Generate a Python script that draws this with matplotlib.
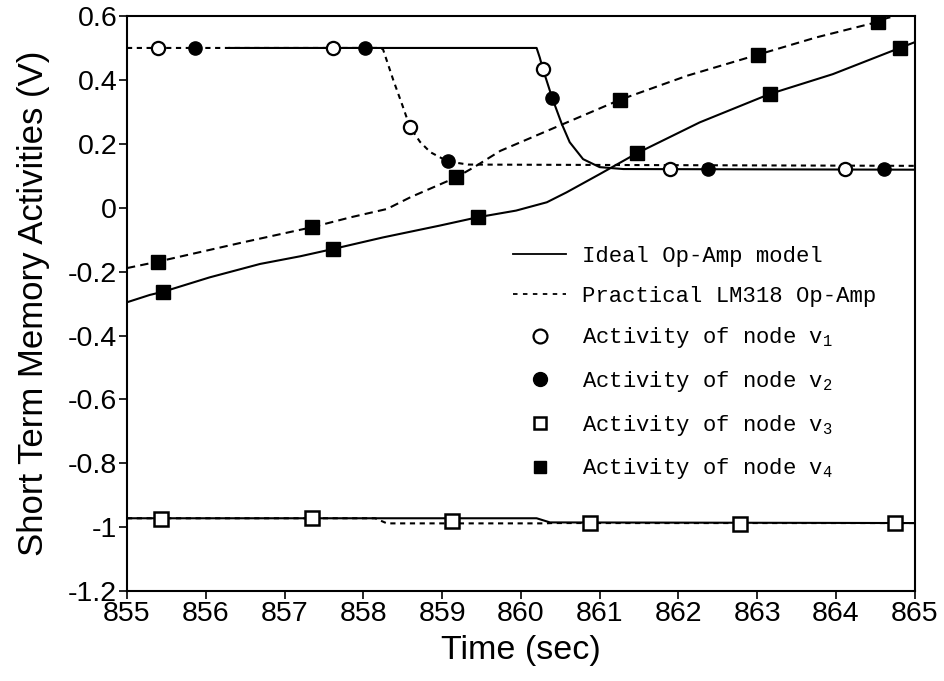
import numpy as np
import matplotlib
matplotlib.use("Agg")
import matplotlib.pyplot as plt
from matplotlib.lines import Line2D
from matplotlib.font_manager import FontProperties

plt.rcParams['font.family'] = ['Liberation Sans', 'DejaVu Sans']
plt.rcParams['axes.unicode_minus'] = False
plt.rcParams['mathtext.fontset'] = 'custom'
plt.rcParams['mathtext.rm'] = 'Liberation Mono'
plt.rcParams['mathtext.it'] = 'Liberation Mono'
plt.rcParams['mathtext.default'] = 'rm'

# v1 / v2 curves (they lie on top of each other)
t_v12_ideal = [856.3, 860.2, 860.24, 860.28, 860.4, 860.52, 860.62, 860.79, 861.0, 861.3, 865.0]
y_v12_ideal = [0.5, 0.5, 0.47, 0.434, 0.342, 0.262, 0.205, 0.152, 0.127, 0.121, 0.119]
t_v12_prac = [855.0, 858.21, 858.25, 858.38, 858.5, 858.59, 858.72, 858.85, 859.07, 859.33, 865.0]
y_v12_prac = [0.5, 0.5, 0.496, 0.40, 0.318, 0.254, 0.206, 0.174, 0.145, 0.135, 0.131]

# v3
t_v3_ideal = [855.0, 860.2, 860.37, 865.0]
y_v3_ideal = [-0.972, -0.972, -0.985, -0.987]
t_v3_prac = [855.0, 858.15, 858.3, 860.3, 860.4, 865.0]
y_v3_prac = [-0.972, -0.972, -0.988, -0.988, -0.987, -0.987]

# v4
t_v4_ideal = [855.0, 855.29, 855.46, 856.05, 856.69, 857.2, 857.62, 858.25, 858.97, 859.45,
              859.94, 860.33, 860.58, 861.0, 861.47, 862.27, 863.16, 863.96, 864.81, 865.0]
y_v4_ideal = [-0.296, -0.273, -0.263, -0.218, -0.176, -0.152, -0.129, -0.093, -0.056, -0.03,
              -0.009, 0.017, 0.048, 0.105, 0.17, 0.267, 0.356, 0.418, 0.50, 0.518]
t_v4_prac = [855.0, 855.39, 856.48, 857.35, 857.84, 858.30, 858.6, 858.89, 859.18, 859.40,
             859.74, 861.26, 862.11, 863.01, 863.75, 864.54, 864.64, 865.0]
y_v4_prac = [-0.189, -0.169, -0.108, -0.061, -0.03, -0.004, 0.033, 0.064, 0.095, 0.126,
             0.178, 0.338, 0.413, 0.479, 0.533, 0.582, 0.593, 0.615]

# marker points
t_v1_mk = [855.39, 857.61, 858.59, 860.28, 861.89, 864.12]
y_v1_mk = [0.5, 0.5, 0.254, 0.434, 0.122, 0.122]
t_v2_mk = [855.86, 858.02, 859.07, 860.40, 862.37, 864.61]
y_v2_mk = [0.5, 0.5, 0.145, 0.342, 0.122, 0.12]
t_v3_mk = [855.43, 857.35, 859.13, 860.88, 862.78, 864.75]
y_v3_mk = [-0.975, -0.972, -0.98, -0.988, -0.99, -0.988]
t_v4i_mk = [855.46, 857.62, 859.45, 861.47, 863.16, 864.81]
y_v4i_mk = [-0.263, -0.129, -0.03, 0.17, 0.356, 0.50]
t_v4p_mk = [855.39, 857.35, 859.18, 861.26, 863.01, 864.54]
y_v4p_mk = [-0.169, -0.061, 0.095, 0.338, 0.479, 0.582]

xticks = list(range(855, 866))
yticks = [-1.2, -1.0, -0.8, -0.6, -0.4, -0.2, 0.0, 0.2, 0.4, 0.6]
ytick_labels = ['-1.2', '-1', '-0.8', '-0.6', '-0.4', '-0.2', '0', '0.2', '0.4', '0.6']

legend_labels = ['Ideal Op-Amp model', 'Practical LM318 Op-Amp',
                 'Activity of node v$_{1}$', 'Activity of node v$_{2}$',
                 'Activity of node v$_{3}$', 'Activity of node v$_{4}$']

fig = plt.figure(figsize=(9.44, 6.81), dpi=100)
ax = fig.add_axes([0.1345, 0.132, 0.8345, 0.8445])

lw = 1.5
dot = (0, (2.5, 2.2))
dash = (0, (4, 2.5))

ax.plot(t_v12_prac, y_v12_prac, color='black', lw=lw, linestyle=dot)
ax.plot(t_v12_ideal, y_v12_ideal, color='black', lw=lw)
ax.plot(t_v3_prac, y_v3_prac, color='black', lw=lw, linestyle=dot)
ax.plot(t_v3_ideal, y_v3_ideal, color='black', lw=lw)
ax.plot(t_v4_prac, y_v4_prac, color='black', lw=lw, linestyle=dash)
ax.plot(t_v4_ideal, y_v4_ideal, color='black', lw=lw)

ms = 9.5
ax.plot(t_v1_mk, y_v1_mk, 'o', ms=ms, mfc='white', mec='black', mew=1.6)
ax.plot(t_v2_mk, y_v2_mk, 'o', ms=ms, mfc='black', mec='black')
ax.plot(t_v3_mk, y_v3_mk, 's', ms=ms, mfc='white', mec='black', mew=1.8)
ax.plot(t_v4i_mk, y_v4i_mk, 's', ms=10, mfc='black', mec='black')
ax.plot(t_v4p_mk, y_v4p_mk, 's', ms=10, mfc='black', mec='black')

ax.set_xlim(855, 865)
ax.set_ylim(-1.2, 0.6)
ax.set_xticks(xticks)
ax.set_xticklabels([str(v) for v in xticks])
ax.set_yticks(yticks)
ax.set_yticklabels(ytick_labels)
ax.tick_params(direction='out', length=6, width=1.2, labelsize=20.5, pad=1)
for s in ax.spines.values():
    s.set_linewidth(1.5)

ax.set_xlabel('Time (sec)', fontsize=24.5, labelpad=6)
ax.set_ylabel('Short Term Memory Activities (V)', fontsize=25, labelpad=13)

handles = [
    Line2D([], [], color='black', lw=1.3),
    Line2D([], [], color='black', lw=1.3, linestyle=(0, (2.5, 3))),
    Line2D([], [], ls='none', marker='o', ms=10, mfc='white', mec='black', mew=1.6),
    Line2D([], [], ls='none', marker='o', ms=10, mfc='black', mec='black'),
    Line2D([], [], ls='none', marker='s', ms=9, mfc='white', mec='black', mew=1.8),
    Line2D([], [], ls='none', marker='s', ms=9, mfc='black', mec='black'),
]
ax.legend(handles, legend_labels, loc='upper left', bbox_to_anchor=(0.49, 0.6),
          frameon=False, prop=FontProperties(family='Liberation Mono', size=16),
          handlelength=2.4, handletextpad=0.7, labelspacing=0.84,
          borderaxespad=0, borderpad=0)

fig.savefig('out.png', dpi=100)
